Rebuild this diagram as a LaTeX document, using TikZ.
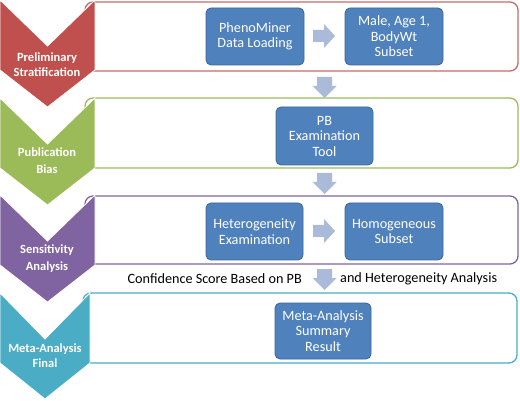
\documentclass[tikz,border=0pt]{standalone}
\usepackage{fontspec}
\setmainfont{Carlito}
\definecolor{cred}{HTML}{C0504D}
\definecolor{cgreen}{HTML}{9BBB59}
\definecolor{cpurple}{HTML}{8064A2}
\definecolor{cteal}{HTML}{4BACC6}
\definecolor{cblue}{HTML}{4F81BD}
\definecolor{cblueb}{HTML}{3A6599}
\definecolor{carrow}{HTML}{A9BBD8}
\tikzset{
  stagebox/.style={line width=1.3pt, rounded corners=8pt, fill=white},
  chev/.style={draw=white, line width=0.8pt},
  chevtext/.style={text=white, font=\fontsize{12.5}{16}\selectfont\bfseries, align=center},
  bluebox/.style={draw=cblueb, fill=cblue, line width=0.8pt, rounded corners=5pt, text=white,
     font=\fontsize{14.2}{15.5}\selectfont, align=center, inner sep=1pt},
  plain/.style={font=\fontsize{14.2}{15.5}\selectfont, inner sep=0pt},
  rarr/.pic={\fill[carrow] (-11,-6) -- (0,-6) -- (0,-12) -- (11,0) -- (0,12) -- (0,6) -- (-11,6) -- cycle;},
  darr/.pic={\fill[carrow] (-7.5,-10) -- (7.5,-10) -- (7.5,-1) -- (12,-1) -- (0,11) -- (-12,-1) -- (-7.5,-1) -- cycle;}
}
\begin{document}
\begin{tikzpicture}[x=1pt,y=-1pt]
\useasboundingbox (0,0) rectangle (520,401);
% stage boxes
\draw[stagebox, draw=cred!85] (85,2) rectangle (518,71);
\draw[stagebox, draw=cgreen] (85,98) rectangle (518,168);
\draw[stagebox, draw=cpurple] (85,196) rectangle (518,264);
\draw[stagebox, draw=cteal] (83,293) rectangle (517,363);
% chevrons
\newcommand\chevron[4]{%
  \filldraw[chev, fill=#1] (0,#2) -- (#4/2,#2+46) -- (#4,#2) -- (#4,#2+70) -- (#4/2,#2+#3) -- (0,#2+70) -- cycle;}
\chevron{cred}{0}{107}{95}
\chevron{cgreen}{98}{107}{95}
\chevron{cpurple}{195}{107}{95}
\chevron{cteal}{293}{106}{90}
\node[chevtext] (l1) at (47,64.5) {Preliminary\\[-1.5pt]Stratification};
\node[chevtext] (l2) at (47,160.5) {Publication\\[1.5pt]Bias};
\node[chevtext] (l3) at (47,258.5) {Sensitivity\\[1.5pt]Analysis};
\node[chevtext] (l4) at (45,355.5) {Meta-Analysis\\[-1pt]Final};
% blue boxes
\node[bluebox, minimum width=98pt, minimum height=57pt] (pheno) at (255,36.5) {PhenoMiner\\Data Loading};
\node[bluebox, minimum width=98pt, minimum height=57pt] (male) at (394,36.5) {Male, Age 1,\\BodyWt\\Subset};
\node[bluebox, minimum width=97pt, minimum height=58pt] (pb) at (324.5,136) {PB\\Examination\\Tool};
\node[bluebox, minimum width=97pt, minimum height=57pt] (het) at (254.5,231.5) {Heterogeneity\\Examination};
\node[bluebox, minimum width=98pt, minimum height=57pt] (hom) at (394,231.5) {Homogeneous\\Subset};
\node[bluebox, minimum width=96pt, minimum height=56pt] (meta) at (323,331) {Meta-Analysis\\Summary\\Result};
% arrows
\pic at (324,36) {rarr};
\pic at (324,231) {rarr};
\pic at (324.5,87) {darr};
\pic at (324.5,183) {darr};
\pic at (324.5,279) {darr};
% texts
\node[plain, anchor=east] (c1) at (302,279) {Confidence Score Based on PB};
\node[plain, anchor=west] (c2) at (340,279) {and Heterogeneity Analysis};
\end{tikzpicture}
\end{document}
